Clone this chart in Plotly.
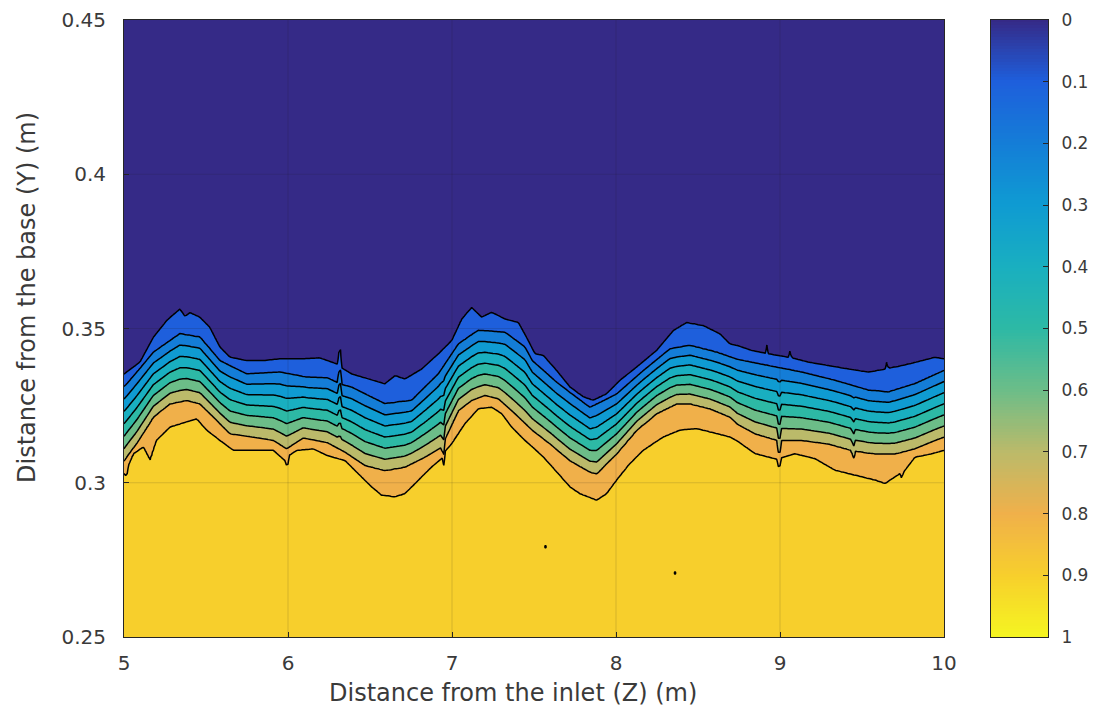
import numpy as np
import plotly.graph_objects as go

# Interface profiles: height (m) of selected volume-fraction contours along the channel
z_c01 = [5.000, 5.016, 5.098, 5.179, 5.260, 5.341, 5.372, 5.402, 5.463, 5.524, 5.585, 5.646,
         5.748, 5.850, 5.951, 6.073, 6.195, 6.300, 6.317, 6.330, 6.388, 6.490, 6.591, 6.652,
         6.713, 6.815, 6.917, 6.998, 7.059, 7.120, 7.181, 7.242, 7.323, 7.405, 7.465, 7.506,
         7.557, 7.638, 7.719, 7.801, 7.862, 7.943, 8.024, 8.126, 8.248, 8.350, 8.431, 8.532,
         8.634, 8.695, 8.740, 8.827, 8.910, 8.919, 8.930, 9.050, 9.061, 9.072, 9.173, 9.295,
         9.417, 9.539, 9.640, 9.650, 9.662, 9.742, 9.864, 9.945, 10.000]
y_c01 = [0.3352, 0.3359, 0.3391, 0.3472, 0.3526, 0.3564, 0.3540, 0.3552, 0.3537, 0.3504, 0.3440, 0.3407,
         0.3396, 0.3396, 0.3402, 0.3402, 0.3405, 0.3385, 0.3450, 0.3372, 0.3353, 0.3337, 0.3321, 0.3348,
         0.3337, 0.3369, 0.3418, 0.3461, 0.3531, 0.3569, 0.3537, 0.3553, 0.3531, 0.3520, 0.3461, 0.3418,
         0.3413, 0.3364, 0.3310, 0.3278, 0.3267, 0.3288, 0.3332, 0.3375, 0.3429, 0.3494, 0.3520, 0.3510,
         0.3483, 0.3450, 0.3445, 0.3429, 0.3420, 0.3450, 0.3418, 0.3407, 0.3429, 0.3405, 0.3391, 0.3380,
         0.3369, 0.3359, 0.3369, 0.3391, 0.3372, 0.3380, 0.3396, 0.3407, 0.3402]

z_c02 = [5.000, 5.016, 5.179, 5.341, 5.463, 5.585, 5.748, 5.951, 6.114, 6.240, 6.300, 6.317,
         6.330, 6.388, 6.591, 6.754, 6.917, 7.039, 7.160, 7.323, 7.445, 7.490, 7.638, 7.841,
         8.004, 8.167, 8.329, 8.451, 8.614, 8.740, 8.929, 9.132, 9.336, 9.539, 9.661, 9.823,
         10.000]
y_c02 = [0.3312, 0.3320, 0.3423, 0.3483, 0.3472, 0.3396, 0.3353, 0.3359, 0.3342, 0.3340, 0.3325, 0.3380,
         0.3318, 0.3310, 0.3256, 0.3267, 0.3353, 0.3450, 0.3494, 0.3488, 0.3440, 0.3396, 0.3326, 0.3245,
         0.3288, 0.3364, 0.3434, 0.3445, 0.3423, 0.3400, 0.3380, 0.3359, 0.3332, 0.3300, 0.3294, 0.3321,
         0.3364]

z_c08 = [5.000, 5.016, 5.077, 5.179, 5.280, 5.382, 5.463, 5.545, 5.646, 5.789, 5.911, 5.992,
         6.093, 6.240, 6.347, 6.470, 6.591, 6.713, 6.835, 6.937, 6.947, 6.957, 7.039, 7.120,
         7.201, 7.283, 7.384, 7.490, 7.598, 7.719, 7.841, 7.882, 8.004, 8.126, 8.248, 8.370,
         8.451, 8.573, 8.695, 8.740, 8.848, 8.985, 8.995, 9.005, 9.132, 9.295, 9.437, 9.447,
         9.457, 9.580, 9.702, 9.823, 9.945, 10.000]
y_c08 = [0.3070, 0.3083, 0.3126, 0.3213, 0.3256, 0.3267, 0.3256, 0.3213, 0.3159, 0.3148, 0.3137, 0.3110,
         0.3145, 0.3130, 0.3099, 0.3056, 0.3040, 0.3051, 0.3083, 0.3115, 0.3070, 0.3140, 0.3234, 0.3267,
         0.3283, 0.3272, 0.3224, 0.3170, 0.3126, 0.3072, 0.3035, 0.3029, 0.3094, 0.3170, 0.3224, 0.3256,
         0.3256, 0.3240, 0.3213, 0.3190, 0.3159, 0.3137, 0.3060, 0.3137, 0.3137, 0.3126, 0.3105, 0.3070,
         0.3103, 0.3094, 0.3094, 0.3110, 0.3137, 0.3148]

z_c09 = [5.000, 5.016, 5.030, 5.057, 5.118, 5.159, 5.199, 5.280, 5.382, 5.443, 5.504, 5.585,
         5.667, 5.789, 5.911, 5.985, 5.995, 6.010, 6.053, 6.154, 6.240, 6.348, 6.429, 6.510,
         6.571, 6.652, 6.713, 6.795, 6.876, 6.940, 6.947, 6.955, 6.998, 7.079, 7.161, 7.242,
         7.303, 7.364, 7.445, 7.490, 7.557, 7.638, 7.719, 7.780, 7.882, 7.943, 8.004, 8.085,
         8.167, 8.289, 8.390, 8.492, 8.614, 8.695, 8.740, 8.848, 8.929, 8.985, 8.995, 9.005,
         9.090, 9.213, 9.336, 9.458, 9.580, 9.641, 9.730, 9.742, 9.755, 9.823, 9.925, 10.000]
y_c09 = [0.3030, 0.3018, 0.3060, 0.3094, 0.3116, 0.3072, 0.3137, 0.3180, 0.3197, 0.3207, 0.3170, 0.3137,
         0.3105, 0.3105, 0.3105, 0.3070, 0.3045, 0.3090, 0.3105, 0.3110, 0.3088, 0.3072, 0.3029, 0.2986,
         0.2959, 0.2954, 0.2964, 0.3008, 0.3051, 0.3080, 0.3030, 0.3100, 0.3126, 0.3191, 0.3240, 0.3245,
         0.3224, 0.3180, 0.3137, 0.3116, 0.3083, 0.3035, 0.2986, 0.2964, 0.2943, 0.2964, 0.3008, 0.3062,
         0.3105, 0.3148, 0.3170, 0.3175, 0.3159, 0.3148, 0.3135, 0.3094, 0.3083, 0.3075, 0.3030, 0.3080,
         0.3094, 0.3078, 0.3040, 0.3024, 0.3008, 0.2997, 0.3029, 0.3013, 0.3035, 0.3083, 0.3094, 0.3105]

# Isolated low-fraction pockets inside the liquid layer
pocket_z = [7.57, 8.36]
pocket_y = [0.2790, 0.2705]
pocket_value = 0.85

levels = [0.1, 0.2, 0.3, 0.4, 0.5, 0.6, 0.7, 0.8, 0.9]
x_ticks = [5, 6, 7, 8, 9, 10]
y_ticks = [0.25, 0.3, 0.35, 0.4, 0.45]
cbar_ticks = [0, 0.1, 0.2, 0.3, 0.4, 0.5, 0.6, 0.7, 0.8, 0.9, 1]
x_title = "Distance from the inlet (Z) (m)"
y_title = "Distance from the base (Y) (m)"

# parula-like colour stops at 0, 0.1, ..., 1
cmap_stops = ["#352A87", "#1E5FDC", "#147DD7", "#0F9BD2", "#19AFC0", "#2DB9A5",
              "#6CBD88", "#BBBA6A", "#F0B04A", "#F7CF2C", "#F5F521"]

# ---- build the volume-fraction field on a regular grid ----
zg = np.round(np.arange(5.0, 10.0001, 0.01), 4)
yg = np.round(np.arange(0.25, 0.45001, 0.0005), 5)
h1 = np.interp(zg, z_c01, y_c01)
h2 = np.interp(zg, z_c02, y_c02)
h8 = np.interp(zg, z_c08, y_c08)
h9 = np.interp(zg, z_c09, y_c09)
ramp = 0.004
F = np.empty((len(yg), len(zg)))
for j in range(len(zg)):
    ky = [0.25, h9[j] - ramp, h9[j], h8[j], h2[j], h1[j], h1[j] + ramp, 0.45]
    kf = [1.0, 1.0, 0.9, 0.8, 0.2, 0.1, 0.0, 0.0]
    F[:, j] = np.interp(yg, ky, kf)
for pz, py in zip(pocket_z, pocket_y):
    j = int(np.argmin(np.abs(zg - pz)))
    i = int(np.argmin(np.abs(yg - py)))
    F[i:i + 2, j] = pocket_value

# Filled-contour colours: the band above level k takes the colour at that level
n = len(levels)
fill_scale = [[k / n, cmap_stops[k]] for k in range(n + 1)]

fig = go.Figure()
fig.add_trace(go.Contour(
    x=zg, y=yg, z=F,
    contours=dict(start=levels[0], end=levels[-1], size=0.1, coloring="fill", showlines=True),
    line=dict(color="black", width=1.5, smoothing=0),
    colorscale=fill_scale, showscale=False, hoverinfo="skip",
    xaxis="x", yaxis="y",
))

# Continuous colour bar
cb_vals = np.linspace(0, 1, 201)
cont_scale = [[i / 10, c] for i, c in enumerate(cmap_stops)]
fig.add_trace(go.Heatmap(
    x=[0], y=cb_vals, z=cb_vals.reshape(-1, 1), zmin=0, zmax=1,
    colorscale=cont_scale, showscale=False, hoverinfo="skip",
    xaxis="x2", yaxis="y2",
))

txt = "#3a3a3a"
font_family = "DejaVu Sans, Verdana, sans-serif"
axis_common = dict(showline=True, mirror=True, linecolor="#262626", linewidth=1,
                   ticks="inside", ticklen=5, tickcolor="#262626", showgrid=False,
                   zeroline=False, automargin=False,
                   tickfont=dict(size=20, color=txt, family=font_family))

# faint grid drawn over the filled field
grid_line = dict(color="rgba(30,30,30,0.15)", width=1)
shapes = []
for xv in x_ticks[1:-1]:
    shapes.append(dict(type="line", xref="x", yref="y", x0=xv, x1=xv, y0=y_ticks[0], y1=y_ticks[-1],
                       line=grid_line, layer="above"))
for yv in y_ticks[1:-1]:
    shapes.append(dict(type="line", xref="x", yref="y", x0=x_ticks[0], x1=x_ticks[-1], y0=yv, y1=yv,
                       line=grid_line, layer="above"))

annotations = [
    dict(text=x_title, xref="paper", yref="paper", x=(513 - 124) / 924, y=-(693 - 637) / 617,
         xanchor="center", yanchor="middle", showarrow=False,
         font=dict(size=24, color=txt, family=font_family)),
    dict(text=y_title, xref="paper", yref="paper", x=-(124 - 27) / 924, y=(637 - 298) / 617,
         xanchor="center", yanchor="middle", showarrow=False, textangle=-90,
         font=dict(size=24, color=txt, family=font_family)),
]

fig.update_layout(
    width=1105, height=724,
    margin=dict(l=124, r=57, t=20, b=87, autoexpand=False),
    paper_bgcolor="white", plot_bgcolor="white",
    font=dict(family=font_family, color=txt),
    showlegend=False,
    shapes=shapes,
    annotations=annotations,
    xaxis=dict(domain=[0, 820 / 924], range=[5, 10], tickvals=x_ticks,
               ticklabelstandoff=8, **axis_common),
    yaxis=dict(range=[0.25, 0.45], tickvals=y_ticks, ticktext=["0.25", "0.3", "0.35", "0.4", "0.45"],
               ticklabelstandoff=13, **axis_common),
    xaxis2=dict(domain=[867 / 924, 1.0], range=[-0.5, 0.5], showticklabels=False, ticks="",
                showline=True, mirror=True, linecolor="#262626", linewidth=1, showgrid=False,
                zeroline=False, anchor="y2", automargin=False),
    yaxis2=dict(domain=[0, 1], range=[1, 0], side="right", anchor="x2", tickvals=cbar_ticks,
                ticktext=[f"{v:g}" for v in cbar_ticks], showline=True, mirror=True,
                linecolor="#262626", linewidth=1, ticks="inside", ticklen=5, tickcolor="#262626",
                showgrid=False, zeroline=False, ticklabelstandoff=9, automargin=False,
                tickfont=dict(size=17, color=txt, family=font_family)),
)

fig.write_html("out.html")
